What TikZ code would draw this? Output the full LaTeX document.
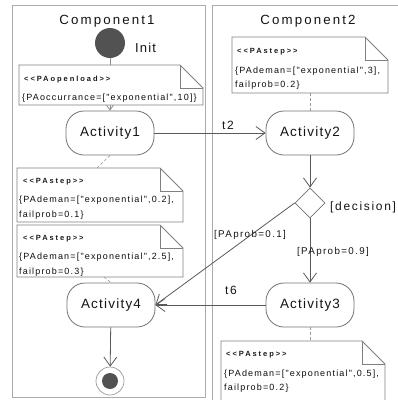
\documentclass[tikz,border=0pt]{standalone}
\usepackage{fontspec}
\setmainfont{Liberation Sans}
\newfontfamily\fTitle[LetterSpace=16]{Liberation Sans}
\newfontfamily\fAct[LetterSpace=9]{Liberation Sans}
\newfontfamily\fBody[LetterSpace=13]{Liberation Sans}
\newfontfamily\fStereo[LetterSpace=26]{Liberation Sans}
\newfontfamily\fLab[LetterSpace=14]{Liberation Sans}
\usetikzlibrary{arrows.meta,shapes.geometric}
\newcommand\mynote[5]{%
  \path[notebox] (#1,#2) -- ({#3-#5},#2) -- (#3,{#2+#5}) -- (#3,#4) -- (#1,#4) -- cycle;
  \draw[notebox,fill=none] ({#3-#5},#2) -- ({#3-#5},{#2+#5}) -- (#3,{#2+#5});}
\begin{document}
\begin{tikzpicture}[x=1pt,y=-1pt,
  frame/.style={draw=black!33, line width=0.9pt},
  act/.style={draw=black!55, line width=0.8pt, rounded corners=18pt, minimum width=88pt, minimum height=44pt, inner sep=0pt, font=\fAct\fontsize{13.5}{14}\selectfont, text=black!92, fill=white},
  flow/.style={draw=black!65, line width=0.8pt, -{Straight Barb[length=9pt,width=13pt,line width=0.8pt]}},
  notebox/.style={draw=black!50, line width=0.8pt, fill=white},
  stereo/.style={anchor=west, inner sep=0pt, font=\fStereo\bfseries\fontsize{7.5}{8}\selectfont, text=black!90},
  body/.style={anchor=west, inner sep=0pt, font=\fBody\fontsize{9}{10}\selectfont, text=black!95},
  lab/.style={inner sep=0pt, font=\fLab\fontsize{9.8}{10}\selectfont, text=black!92},
  title/.style={inner sep=0pt, font=\fTitle\fontsize{13.3}{14}\selectfont, text=black!92},
  trace/.style={draw=black!40, line width=0.6pt, dash pattern=on 3pt off 2pt}
]
\useasboundingbox (0,0) rectangle (398,400);
\clip (0,0) rectangle (398,400);
% frames
\draw[frame] (12,5) rectangle (205,397);
\draw[frame] (212,5) rectangle (430,430);
\node[title] (c1) at (107,21) {Component1};
\node[title] (c2) at (308,21) {Component2};
% nodes
\node[circle, fill=black!68, minimum size=30pt, inner sep=0pt] (init) at (110,43) {};
\node[inner sep=0pt, anchor=west, font=\fAct\fontsize{13}{14}\selectfont, text=black!92] (initlab) at (135,48) {Init};
\node[act] (a1) at (110,133) {Activity1};
\node[act] (a2) at (310,133) {Activity2};
\node[act] (a3) at (310,305) {Activity3};
\node[act] (a4) at (111,305) {Activity4};
\node[diamond, draw=black!55, line width=0.8pt, minimum size=30pt, inner sep=0pt, fill=white] (dec) at (310,203) {};
\node[circle, draw=black!40, line width=0.7pt, minimum size=28pt, inner sep=0pt] (fin) at (110,381) {};
\node[circle, fill=black!68, minimum size=16pt, inner sep=0pt] (finin) at (110,381) {};
% init to activity1 (behind note)
\draw[flow, draw=black!45] (init) -- (a1);
% note PAopenload
\mynote{19}{65}{203}{105}{23}
\node[stereo] (s0) at (24,80) {<<PAopenload>>};
\node[body] (b0) at (22,98) {\{PAoccurrance=["exponential",10]\}};
% note for Activity2
\mynote{232}{37}{388}{93}{23}
\node[stereo] (s2) at (237,52) {<<PAstep>>};
\node[body] (b2a) at (235,71) {\{PAdeman=["exponential",3],};
\node[body] (b2b) at (235,85) {failprob=0.2\}};
\coordinate (n2b) at (310,93);
% note for Activity1
\mynote{17}{168}{183}{222}{23}
\node[stereo] (s1) at (23,182) {<<PAstep>>};
\node[body] (b1a) at (19,200) {\{PAdeman=["exponential",0.2],};
\node[body] (b1b) at (19,215) {failprob=0.1\}};
\coordinate (n1t) at (97,168);
% note for Activity4
\mynote{17}{225}{183}{277}{23}
\node[stereo] (s4) at (23,239) {<<PAstep>>};
\node[body] (b4a) at (19,257) {\{PAdeman=["exponential",2.5],};
\node[body] (b4b) at (19,272) {failprob=0.3\}};
\coordinate (n4b) at (104,277);
% note for Activity3
\mynote{221}{341}{385}{420}{23}
\node[stereo] (s3) at (226,355) {<<PAstep>>};
\node[body] (b3a) at (224,374) {\{PAdeman=["exponential",0.5],};
\node[body] (b3b) at (224,388) {failprob=0.2\}};
\coordinate (n3t) at (310,341);
% traces
\draw[trace] (n2b) -- (a2.north);
\draw[trace] (a3.south) -- (n3t);
\draw[trace] (a1.south) -- (n1t);
\draw[trace] (n4b) -- (a4.north);
% flows
\draw[flow] (a1) -- (a2);
\draw[flow] (a2) -- (dec);
\draw[flow] (dec.south) -- (a3.north);
\draw[flow] (dec.west) -- (a4.east);
\draw[flow] (a3) -- (a4);
\draw[flow] (a4) -- (fin);
% labels
\node[lab, font=\fLab\fontsize{12}{13}\selectfont] (t2) at (228,125) {t2};
\node[lab, font=\fLab\fontsize{12}{13}\selectfont] (t6) at (231,290) {t6};
\node[lab, anchor=west, font=\fLab\fontsize{12}{13}\selectfont] (decl) at (330,207) {[decision]};
\node[lab] (p1) at (250,235) {[PAprob=0.1]};
\node[lab] (p9) at (333,252) {[PAprob=0.9]};
\end{tikzpicture}
\end{document}
